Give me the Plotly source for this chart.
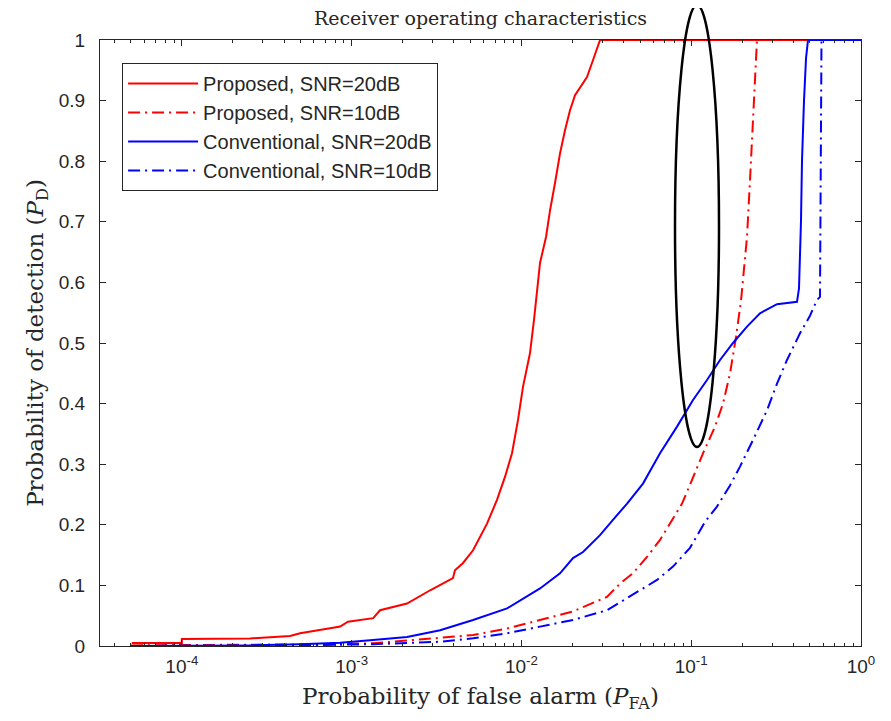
import plotly.graph_objects as go

# ---- data ----
pfa_prop20 = [5.07e-5, 1.0e-4, 1.0e-4, 2.52e-4, 4.34e-4, 4.97e-4, 7.77e-4, 8.55e-4, 9.52e-4,
              1.34e-3, 1.47e-3, 2.12e-3, 2.90e-3, 3.95e-3, 4.06e-3, 4.53e-3, 5.19e-3, 6.27e-3,
              7.18e-3, 8.00e-3, 8.80e-3, 9.55e-3, 1.022e-2, 1.123e-2, 1.186e-2, 1.235e-2,
              1.287e-2, 1.396e-2, 1.474e-2, 1.577e-2, 1.688e-2, 1.806e-2, 1.933e-2, 2.069e-2,
              2.433e-2, 2.604e-2, 2.904e-2, 1.0]
pd_prop20 = [0.005, 0.005, 0.0115, 0.0125, 0.0165, 0.021, 0.030, 0.032, 0.040,
             0.046, 0.059, 0.070, 0.092, 0.112, 0.125, 0.137, 0.158, 0.202,
             0.241, 0.279, 0.318, 0.373, 0.428, 0.483, 0.538, 0.587,
             0.632, 0.675, 0.719, 0.764, 0.813, 0.851, 0.884, 0.909,
             0.939, 0.962, 1.0, 1.0]

pfa_prop10 = [5.02e-5, 2.52e-4, 7.46e-4, 1.337e-3, 2.12e-3, 3.32e-3, 5.19e-3, 8.23e-3,
              1.287e-2, 2.013e-2, 3.19e-2, 3.81e-2, 4.54e-2, 5.49e-2, 6.55e-2, 7.50e-2,
              8.83e-2, 0.1011, 0.1173, 0.1381, 0.1539, 0.1693, 0.1836, 0.1965, 0.2131,
              0.2220, 0.2312, 0.2375, 0.2440, 1.0]
pd_prop10 = [0.001, 0.002, 0.003, 0.0045, 0.009, 0.0127, 0.018, 0.029,
             0.043, 0.057, 0.081, 0.103, 0.12, 0.147, 0.175, 0.202,
             0.235, 0.274, 0.318, 0.362, 0.40, 0.45, 0.51, 0.57, 0.675,
             0.769, 0.879, 0.94, 1.0, 1.0]

pfa_conv20 = [5.02e-5, 2.52e-4, 4.97e-4, 8.55e-4, 1.337e-3, 2.12e-3, 3.32e-3, 5.19e-3,
              8.23e-3, 1.287e-2, 1.688e-2, 2.013e-2, 2.306e-2, 2.904e-2, 3.46e-2, 4.19e-2,
              5.20e-2, 6.55e-2, 8.25e-2, 0.1025, 0.1239, 0.1478, 0.1763, 0.2131, 0.2542,
              0.3201, 0.4199, 0.4313, 0.4431, 0.4492, 0.4616, 0.4745, 0.4875, 1.0]
pd_conv20 = [0.0, 0.001, 0.003, 0.0055, 0.010, 0.015, 0.026, 0.043,
             0.062, 0.095, 0.12, 0.145, 0.155, 0.183, 0.208, 0.235,
             0.268, 0.318, 0.362, 0.406, 0.439, 0.472, 0.50, 0.527, 0.549,
             0.564, 0.568, 0.59, 0.70, 0.80, 0.90, 0.97, 1.0, 1.0]

pfa_conv10 = [5.02e-5, 4.97e-4, 1.337e-3, 2.12e-3, 3.32e-3, 5.19e-3, 8.23e-3, 1.287e-2,
              2.013e-2, 3.19e-2, 3.81e-2, 4.99e-2, 6.29e-2, 7.81e-2, 9.84e-2, 0.1206,
              0.1418, 0.1693, 0.1938, 0.2312, 0.2796, 0.3201, 0.3666, 0.4372, 0.5006,
              0.5506, 0.5735, 0.5852, 1.0]
pd_conv10 = [0.0, 0.001, 0.003, 0.0045, 0.007, 0.0127, 0.021, 0.032,
             0.043, 0.059, 0.072, 0.092, 0.109, 0.131, 0.162, 0.205,
             0.230, 0.265, 0.296, 0.340, 0.389, 0.433, 0.472, 0.516, 0.545,
             0.571, 0.576, 1.0, 1.0]

series_names = ["Proposed, SNR=20dB", "Proposed, SNR=10dB",
                "Conventional, SNR=20dB", "Conventional, SNR=10dB"]

x_tickvals = [1e-4, 1e-3, 1e-2, 1e-1, 1]
x_ticktext = ["10<sup>-4</sup>", "10<sup>-3</sup>", "10<sup>-2</sup>", "10<sup>-1</sup>", "10<sup>0</sup>"]
x_minor = [m * 10.0 ** e for e in range(-5, 0) for m in range(2, 10)]
y_tickvals = [0, 0.1, 0.2, 0.3, 0.4, 0.5, 0.6, 0.7, 0.8, 0.9, 1]
y_ticktext = ["0", "0.1", "0.2", "0.3", "0.4", "0.5", "0.6", "0.7", "0.8", "0.9", "1"]

# ---- figure ----
RED = "#ff0000"
BLUE = "#0000ff"
DASHDOT = "12px,5px,2px,5px"
AXC = "#262626"
SERIF = "DejaVu Serif"
SANS = "Liberation Sans"

fig = go.Figure()
specs = [
    (pfa_prop20, pd_prop20, RED, "solid"),
    (pfa_prop10, pd_prop10, RED, DASHDOT),
    (pfa_conv20, pd_conv20, BLUE, "solid"),
    (pfa_conv10, pd_conv10, BLUE, DASHDOT),
]
for i, (xs, ys, col, dash) in enumerate(specs):
    fig.add_trace(go.Scatter(x=xs, y=ys, mode="lines", name=series_names[i],
                             legendgroup=f"g{i}",
                             line=dict(color=col, width=2, dash=dash)))

# plot area: 761 x 606 px (page has an 8px body margin)
fig.update_layout(
    width=891, height=721,
    margin=dict(l=92, r=38, t=32, b=83),
    paper_bgcolor="white", plot_bgcolor="white",
    showlegend=True,
    title=dict(text="Receiver operating characteristics", x=0.5, xref="paper",
               y=1 - 10 / 721, yref="container", yanchor="middle",
               font=dict(family=SERIF, size=19, color=AXC)),
    legend=dict(x=0.029, y=0.962, xanchor="left", yanchor="top",
                bgcolor="white", bordercolor=AXC, borderwidth=1,
                font=dict(family=SANS, size=20, color=AXC),
                tracegroupgap=0, itemwidth=70),
)

fig.update_xaxes(
    type="log", range=[-4.482, 0],
    tickvals=x_tickvals, ticktext=x_ticktext,
    ticks="inside", ticklen=6, tickcolor=AXC, tickwidth=1,
    minor=dict(tickvals=x_minor, ticks="inside", ticklen=3, tickcolor=AXC, showgrid=False),
    showline=True, linecolor=AXC, linewidth=1, mirror="ticks",
    showgrid=False, zeroline=False, ticklabelstandoff=3,
    tickfont=dict(family=SANS, size=19, color=AXC),
    title=dict(text="Probability of false alarm (<i>P</i><sub>FA</sub>)",
               font=dict(family=SERIF, size=23, color=AXC), standoff=12),
)
fig.update_yaxes(
    range=[0, 1],
    tickvals=y_tickvals, ticktext=y_ticktext,
    ticks="inside", ticklen=6, tickcolor=AXC, tickwidth=1,
    showline=True, linecolor=AXC, linewidth=1, mirror="ticks",
    showgrid=False, zeroline=False, ticklabelstandoff=10,
    tickfont=dict(family=SANS, size=19, color=AXC),
    title=dict(text="Probability of detection (<i>P</i><sub>D</sub>)",
               font=dict(family=SERIF, size=23, color=AXC), standoff=8),
)

# highlight ellipse (annotation mark), relative to the plot area
fig.add_shape(type="circle", xref="paper", yref="paper",
              x0=(675 - 100) / 761, x1=(719 - 100) / 761,
              y0=(646 - 447) / 606, y1=(646 - 5) / 606,
              line=dict(color="black", width=2.5), layer="above")

fig.write_html("out.html")
